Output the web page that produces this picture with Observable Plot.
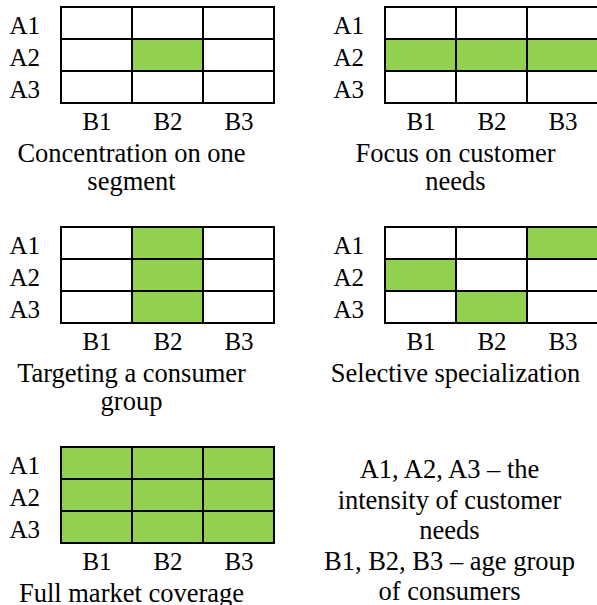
<!DOCTYPE html>
<html><head><meta charset="utf-8">
<script src="https://cdn.jsdelivr.net/npm/d3@7"></script>
<script src="https://cdn.jsdelivr.net/npm/@observablehq/plot@0.6"></script>
<style>html,body{margin:0;padding:0;background:#fff;overflow:hidden}</style>
</head><body><div id="chart"></div>
<script>
// Rows (intensity of customer needs) and columns (age group of consumers)
const rowLabels = ["A1", "A2", "A3"];
const colLabels = ["B1", "B2", "B3"];

// Panel captions and their position in the 2 x 3 layout
const captions = [
  "Concentration on one\nsegment",
  "Focus on customer\nneeds",
  "Targeting a consumer\ngroup",
  "Selective specialization",
  "Full market coverage"
];
const panelColumn = [0, 1, 0, 1, 0];
const panelRow = [0, 0, 1, 1, 2];

// Highlighted cells of each panel (row A1..A3, column B1..B3), 1 = covered
const concentration = [[0, 0, 0], [0, 1, 0], [0, 0, 0]];
const customerNeeds = [[0, 0, 0], [1, 1, 1], [0, 0, 0]];
const consumerGroup = [[0, 1, 0], [0, 1, 0], [0, 1, 0]];
const selective = [[0, 0, 1], [1, 0, 0], [0, 1, 0]];
const fullCoverage = [[1, 1, 1], [1, 1, 1], [1, 1, 1]];
const panelMatrices = [concentration, customerNeeds, consumerGroup, selective, fullCoverage];

// Explanatory note in the last slot
const legendLines = ["A1, A2, A3 – the", "intensity of customer", "needs", "B1, B2, B3 – age group", "of consumers"];
const legendColumn = 1;
const legendRow = 2;

// Tables built from the arrays above
const cells = [];
const rowTicks = [];
const colTicks = [];
panelMatrices.forEach((m, p) => {
  rowLabels.forEach((a, r) => {
    rowTicks.push({px: panelColumn[p], py: panelRow[p], A: a});
    colLabels.forEach((b, c) => {
      cells.push({px: panelColumn[p], py: panelRow[p], A: a, B: b, on: m[r][c]});
    });
  });
  colLabels.forEach(b => colTicks.push({px: panelColumn[p], py: panelRow[p], B: b}));
});
const captionRows = captions.map((t, p) => ({px: panelColumn[p], py: panelRow[p], text: t}));
const legendRows = [{px: legendColumn, py: legendRow, text: legendLines.join("\n")}];

const green = "#92D050";
const font = "'Times New Roman', Tinos, 'Liberation Serif', 'Noto Serif', 'DejaVu Serif', serif";

const chart = Plot.plot({
  width: 597,
  height: 605,
  marginLeft: 61,
  marginRight: -1,
  marginTop: 7,
  marginBottom: 62,
  style: {background: "white", color: "black", fontFamily: font},
  fx: {domain: [0, 1], paddingInner: 111 / 324, paddingOuter: 0, axis: null},
  fy: {domain: [0, 1, 2], paddingInner: 124 / 220, paddingOuter: 0, axis: null},
  x: {domain: colLabels, padding: 0, axis: null},
  y: {domain: rowLabels, padding: 0, axis: null},
  color: {type: "ordinal", domain: [0, 1], range: ["#ffffff", green]},
  marks: [
    Plot.cell(cells, {fx: "px", fy: "py", x: "B", y: "A", fill: "on", stroke: "black", strokeWidth: 2, inset: 0}),
    Plot.text(rowTicks, {fx: "px", fy: "py", y: "A", text: "A", frameAnchor: "left", textAnchor: "start", dx: -52, dy: 2, fontSize: 25, fontFamily: font, fill: "black"}),
    Plot.text(colTicks, {fx: "px", fy: "py", x: "B", text: "B", frameAnchor: "bottom", lineAnchor: "bottom", dy: 26, fontSize: 25, fontFamily: font, fill: "black"}),
    Plot.text(captionRows, {fx: "px", fy: "py", text: "text", frameAnchor: "bottom", lineAnchor: "top", dx: -36.5, dy: 38, fontSize: 26.5, lineHeight: 1.07, fontFamily: font, fill: "black"}),
    Plot.text(legendRows, {fx: "px", fy: "py", text: "text", frameAnchor: "top", lineAnchor: "top", dx: -42.5, dy: 9, fontSize: 26.5, lineHeight: 1.15, fontFamily: font, fill: "black"})
  ]
});
document.getElementById("chart").appendChild(chart);
</script>
</body></html>
